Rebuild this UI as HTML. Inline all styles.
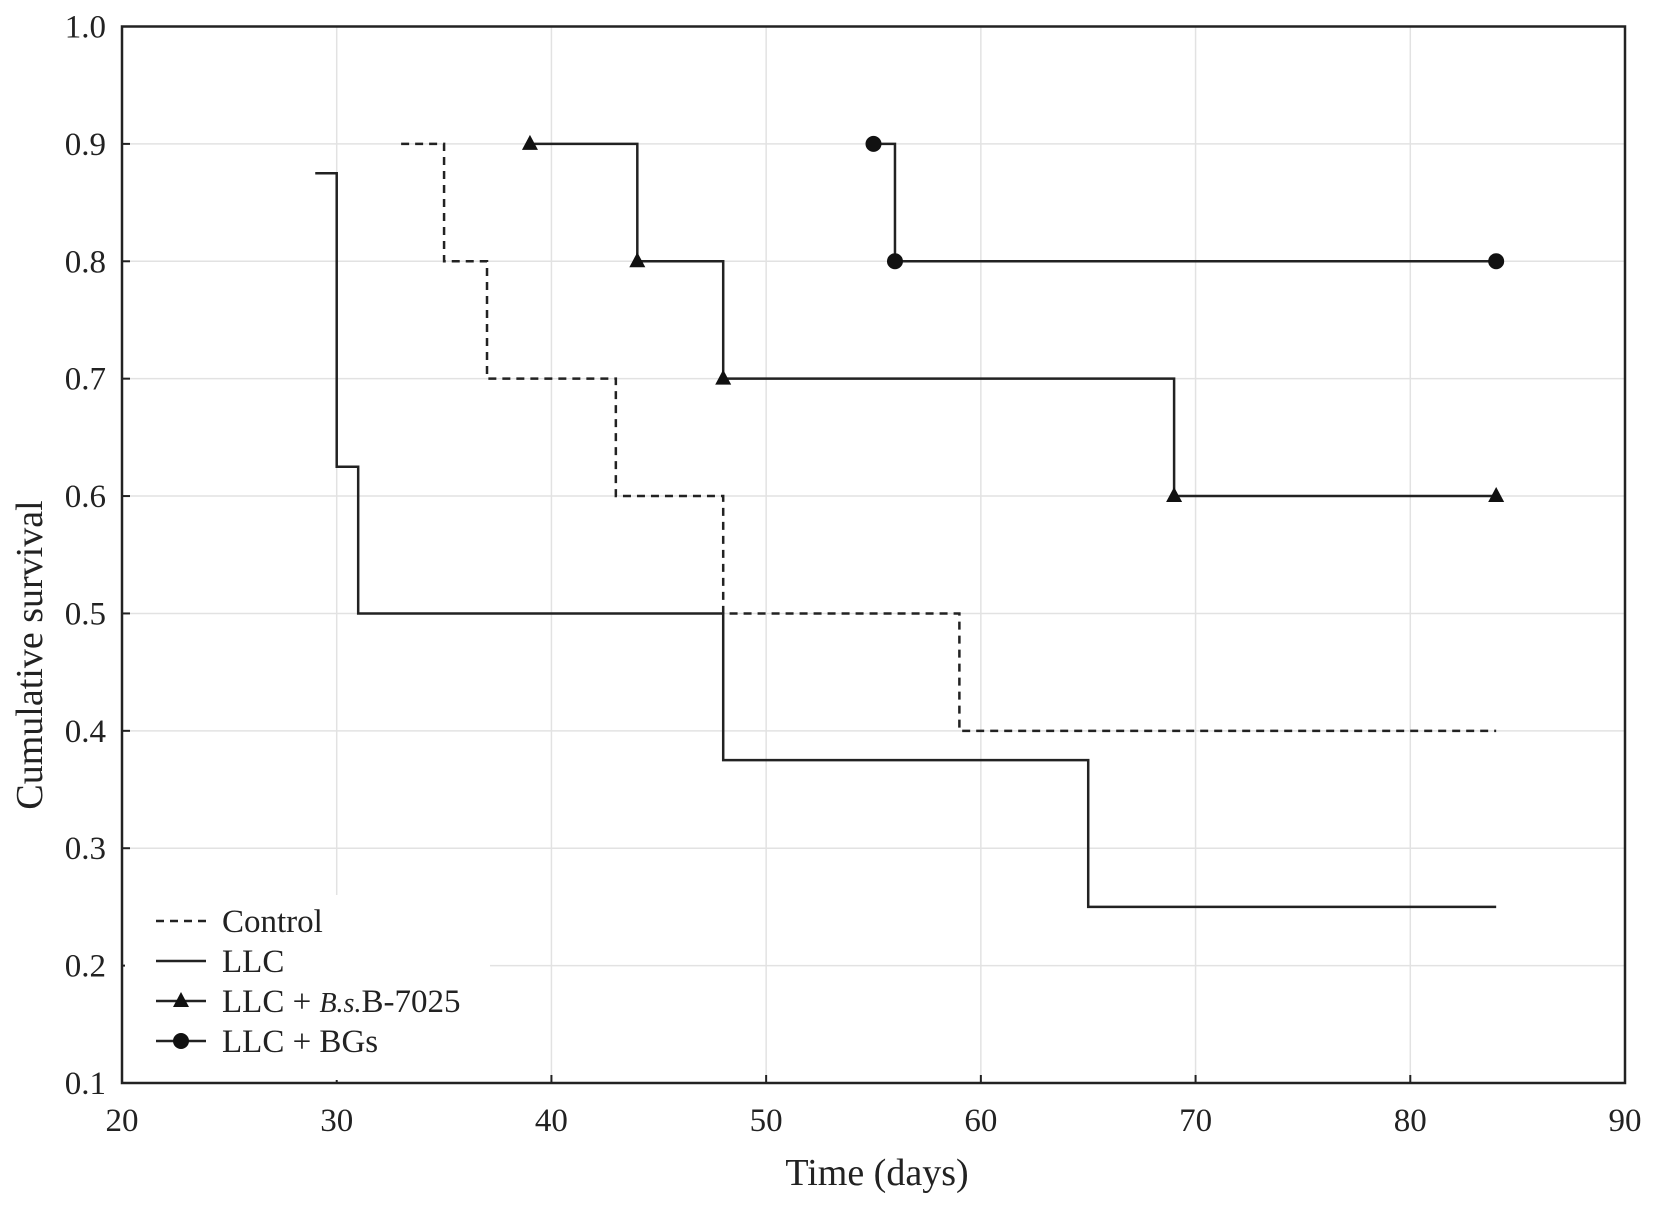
<!DOCTYPE html>
<html><head><meta charset="utf-8"><style>
html,body{margin:0;padding:0;background:#fff;}
svg{display:block;font-family:"Liberation Serif",serif;}
</style></head><body>
<svg id="chart" width="1654" height="1205" viewBox="0 0 1654 1205">
<g id="grid"></g><g id="series"></g><g id="axes"></g><g id="legend"></g>
</svg>
<script>
const xTicks=[20,30,40,50,60,70,80,90];
const yTicks=[0.1,0.2,0.3,0.4,0.5,0.6,0.7,0.8,0.9,1.0];
const controlT=[33,35,37,43,48,59,84];
const controlS=[0.9,0.8,0.7,0.6,0.5,0.4,0.4];
const llcT=[29,30,31,48,65,84];
const llcS=[0.875,0.625,0.5,0.375,0.25,0.25];
const bsT=[39,44,48,69,84];
const bsS=[0.9,0.8,0.7,0.6,0.6];
const bgT=[55,56,84];
const bgS=[0.9,0.8,0.8];
const L=122,R=1625,T=26.5,B=1083;
const X=v=>L+(v-20)/70*(R-L);
const Y=v=>B-(v-0.1)/0.9*(B-T);
const NS="http://www.w3.org/2000/svg";
function mk(tag,attrs,parent){const e=document.createElementNS(NS,tag);for(const k in attrs)e.setAttribute(k,attrs[k]);parent.appendChild(e);return e;}
const grid=document.getElementById('grid'),ser=document.getElementById('series'),ax=document.getElementById('axes'),lg=document.getElementById('legend');
xTicks.forEach(t=>{
 const g=mk('line',{x1:X(t),x2:X(t),y1:T,y2:B,stroke:'#e2e2e2','stroke-width':1.5},grid);
 
 
 const tk=mk('line',{x1:X(t),x2:X(t),y1:B,y2:B-8,stroke:'#222','stroke-width':2},ax);
 
 
 const tx=mk('text',{x:X(t),y:B+48,'text-anchor':'middle','font-size':33,fill:'#222'},ax);
 tx.textContent=t;
 
 
});
yTicks.forEach(t=>{
 const g=mk('line',{x1:L,x2:R,y1:Y(t),y2:Y(t),stroke:'#e2e2e2','stroke-width':1.5},grid);
 
 
 const tk=mk('line',{x1:L,x2:L+8,y1:Y(t),y2:Y(t),stroke:'#222','stroke-width':2},ax);
 
 
 const tx=mk('text',{x:L-16,y:Y(t)+11,'text-anchor':'end','font-size':33,fill:'#222'},ax);
 tx.textContent=t.toFixed(1);
 
 
});
const frame=mk('rect',{x:L,y:T,width:R-L,height:B-T,fill:'none',stroke:'#222','stroke-width':2.5},ax);


const xt=mk('text',{x:877,y:1185,'text-anchor':'middle','font-size':38,fill:'#222'},ax);
xt.textContent='Time (days)';


const yt=mk('text',{x:0,y:0,'text-anchor':'middle','font-size':38,fill:'#222',transform:'translate(42,655) rotate(-90)'},ax);
yt.textContent='Cumulative survival';


function stepPath(ts,ss){let d='M'+X(ts[0])+','+Y(ss[0]);for(let i=1;i<ts.length;i++){d+=' H'+X(ts[i])+' V'+Y(ss[i]);}return d;}
function series(name,ts,ss,dash,marker){
 const p=mk('path',{d:stepPath(ts,ss),fill:'none',stroke:'#222','stroke-width':2.5},ser);
 if(dash)p.setAttribute('stroke-dasharray','8,6');
 
 
 if(marker)ts.forEach((t,i)=>{
  const x=X(t),y=Y(ss[i]);let m;
  if(marker==='tri')m=mk('polygon',{points:`${x},${y-9} ${x-8},${y+6} ${x+8},${y+6}`,fill:'#111'},ser);
  else m=mk('circle',{cx:x,cy:y,r:8,fill:'#111'},ser);
  
  
 });
}
series('control',controlT,controlS,true,null);
series('llc',llcT,llcS,false,null);
series('llc-bs',bsT,bsS,false,'tri');
series('llc-bgs',bgT,bgS,false,'dot');
const bg=mk('rect',{x:L+3,y:895,width:365,height:185,fill:'#fff'},lg);


const entries=[['Control',true,null],['LLC',false,null],['LLC + ',false,'tri'],['LLC + BGs',false,'dot']];
entries.forEach((e,i)=>{
 const y=921+i*40;
 const ln=mk('line',{x1:156,x2:206,y1:y,y2:y,stroke:'#222','stroke-width':2.5},lg);
 if(e[1])ln.setAttribute('stroke-dasharray','8,6');
 
 
 if(e[2]==='tri'){const m=mk('polygon',{points:`181,${y-9} 173,${y+6} 189,${y+6}`,fill:'#111'},lg);}
 if(e[2]==='dot'){const m=mk('circle',{cx:181,cy:y,r:8,fill:'#111'},lg);}
 const tx=mk('text',{x:222,y:y+11,'font-size':33,fill:'#222'},lg);
 
 
 if(i===2){tx.innerHTML='LLC + <tspan font-style="italic" font-size="28">B.s.</tspan>B-7025';}
 else tx.textContent=e[0];
});
</script>
</body></html>
